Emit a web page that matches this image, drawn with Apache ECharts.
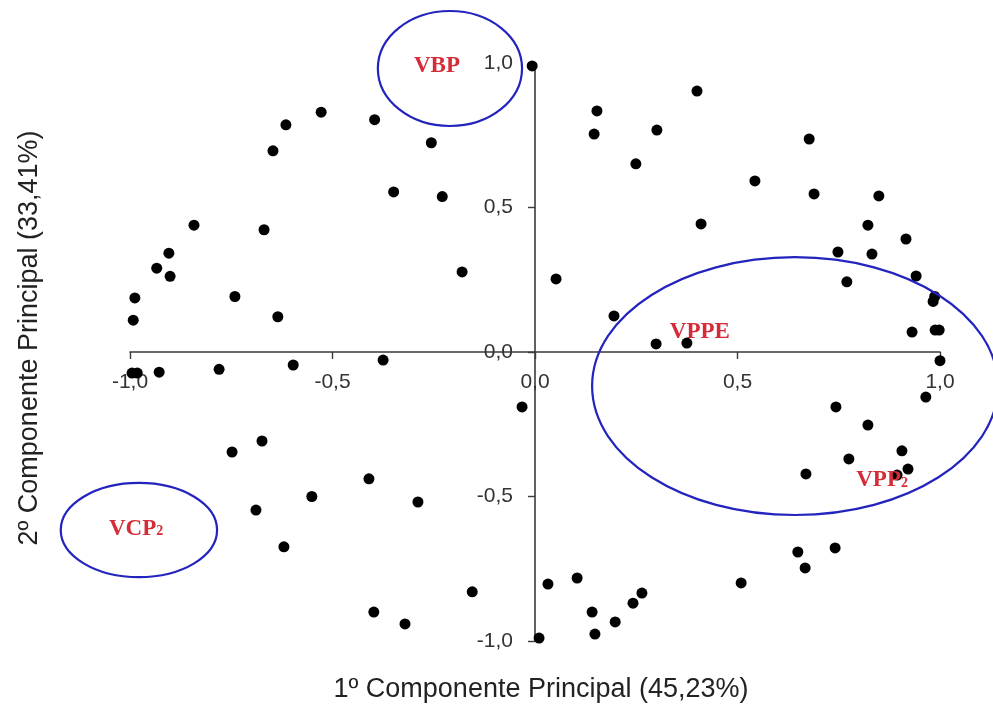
<!DOCTYPE html>
<html>
<head>
<meta charset="utf-8">
<script src="https://cdn.jsdelivr.net/npm/echarts@6/dist/echarts.min.js"></script>
<style>html,body{margin:0;padding:0;background:#fff}#c{width:993px;height:710px}</style>
</head>
<body>
<div id="c"></div>
<script>
// Loadings on the two principal components
const pc1 = [-0.528,-0.615,-0.647,-0.396,-0.256,-0.349,-0.229,-0.842,-0.669,-0.904,-0.934,-0.901,-0.180,-0.988,-0.741,-0.992,-0.635,
  -0.995,-0.982,-0.928,-0.780,-0.597,-0.375,-0.674,-0.748,-0.410,-0.551,-0.289,-0.689,-0.620,-0.155,-0.398,-0.321,
  -0.007,0.153,0.146,0.400,0.301,0.249,0.543,0.677,0.689,0.849,0.410,0.822,0.916,0.748,0.832,0.052,0.941,0.770,0.983,0.987,
  0.195,0.931,0.988,0.998,0.299,0.375,1.000,-0.032,0.965,0.743,0.822,0.906,0.775,0.921,0.894,0.669,0.649,0.741,0.667,0.509,
  0.032,0.104,0.141,0.148,0.198,0.242,0.264,0.010];
const pc2 = [0.830,0.786,0.696,0.804,0.724,0.554,0.538,0.439,0.423,0.342,0.290,0.262,0.277,0.187,0.192,0.110,0.122,
  -0.073,-0.073,-0.070,-0.060,-0.045,-0.028,-0.308,-0.346,-0.439,-0.500,-0.519,-0.547,-0.674,-0.830,-0.900,-0.941,
  0.990,0.834,0.754,0.903,0.768,0.651,0.592,0.737,0.547,0.540,0.443,0.439,0.391,0.346,0.339,0.253,0.263,0.243,0.175,0.192,
  0.125,0.069,0.076,0.076,0.028,0.031,-0.030,-0.190,-0.156,-0.190,-0.253,-0.342,-0.370,-0.405,-0.426,-0.422,-0.692,-0.678,-0.747,-0.799,
  -0.803,-0.782,-0.900,-0.976,-0.934,-0.869,-0.834,-0.990];
const tickValues = [-1.0, -0.5, 0.0, 0.5, 1.0];
const xTitle = '1º Componente Principal (45,23%)';
const yTitle = '2º Componente Principal (33,41%)';
const groupNames = ['VBP', 'VPPE', 'VPP₂', 'VCP₂'];

// annotation geometry (data units)
const groupLabelPos = [[-0.242, 0.99], [0.407, 0.069], [0.857, -0.443], [-0.985, -0.612]];
const ellipses = [
  {cx: -0.210, cy: 0.981, rx: 0.178, ry: 0.199},
  {cx: 0.642, cy: -0.118, rx: 0.501, ry: 0.446},
  {cx: -0.978, cy: -0.616, rx: 0.193, ry: 0.163}
];

const points = pc1.map((v, i) => [v, pc2[i]]);
const fmt = v => v.toFixed(1).replace('.', ',').replace('-0,0', '0,0');

const W = 993, H = 710;
const grid = {left: 130, right: 53, top: 63, bottom: 69};
const plotW = W - grid.left - grid.right, plotH = H - grid.top - grid.bottom;
const dMin = tickValues[0], dMax = tickValues[tickValues.length - 1];
// place the axes through the origin with offsets derived from the scale
const xAxisOffset = -plotH * (0 - dMin) / (dMax - dMin);
const yAxisOffset = -plotW * (0 - dMin) / (dMax - dMin);

const chart = echarts.init(document.getElementById('c'));
const axisCommon = {
  type: 'value', min: dMin, max: dMax, interval: 0.5,
  splitLine: {show: false},
  axisLine: {show: true, onZero: false, lineStyle: {color: '#3a3a3a', width: 1.6}},
  axisTick: {show: true, length: 7, lineStyle: {color: '#3a3a3a', width: 1.4}},
  axisLabel: {color: '#333', fontFamily: 'Liberation Sans', fontSize: 21, formatter: fmt, showMinLabel: true, showMaxLabel: true}
};
chart.setOption({
  animation: false,
  backgroundColor: '#fff',
  grid: grid,
  xAxis: Object.assign({}, axisCommon, {position: 'bottom', offset: xAxisOffset,
    axisLabel: Object.assign({}, axisCommon.axisLabel, {margin: 20})}),
  yAxis: Object.assign({}, axisCommon, {position: 'left', offset: yAxisOffset,
    axisLabel: Object.assign({}, axisCommon.axisLabel, {margin: 22})}),
  series: [{
    type: 'scatter', data: points, symbolSize: 11, clip: false,
    itemStyle: {color: '#000', opacity: 1}
  }]
});

function redraw() {
  const g = [];
  ellipses.forEach(e => {
    const c = chart.convertToPixel({gridIndex: 0}, [e.cx, e.cy]);
    const px = chart.convertToPixel({gridIndex: 0}, [e.cx + e.rx, e.cy + e.ry]);
    g.push({type: 'ellipse', shape: {cx: c[0], cy: c[1], rx: Math.abs(px[0] - c[0]), ry: Math.abs(px[1] - c[1])},
      style: {fill: 'none', stroke: '#2323bd', lineWidth: 2.2}, z: 5});
  });
  groupNames.forEach((n, i) => {
    const p = chart.convertToPixel({gridIndex: 0}, groupLabelPos[i]);
    let text = n, rich = null;
    if (n.endsWith('₂')) {
      text = '{a|' + n.slice(0, -1) + '}{b|2}';
      rich = {
        a: {fontFamily: 'Liberation Serif', fontWeight: 'bold', fontSize: 23, fill: '#d42c38', lineHeight: 26},
        b: {fontFamily: 'Liberation Serif', fontWeight: 'bold', fontSize: 14, fill: '#d42c38', verticalAlign: 'bottom', lineHeight: 14, padding: [0, 0, 3, 0]}
      };
    }
    const st = {text: text, x: 0, y: 0, fill: '#d42c38', fontFamily: 'Liberation Serif', fontWeight: 'bold', fontSize: 23,
      textAlign: 'center', textVerticalAlign: 'middle'};
    if (rich) st.rich = rich;
    g.push({type: 'text', x: p[0], y: p[1], style: st, z: 6});
  });
  g.push({type: 'text', x: 541, y: 690, style: {text: xTitle, fill: '#222', fontFamily: 'Liberation Sans', fontSize: 27,
    textAlign: 'center', textVerticalAlign: 'middle'}});
  g.push({type: 'text', x: 30, y: 338, rotation: Math.PI / 2, style: {text: yTitle, fill: '#222', fontFamily: 'Liberation Sans', fontSize: 27,
    textAlign: 'center', textVerticalAlign: 'middle'}});
  chart.setOption({graphic: g});
}
redraw();
</script>
</body>
</html>
